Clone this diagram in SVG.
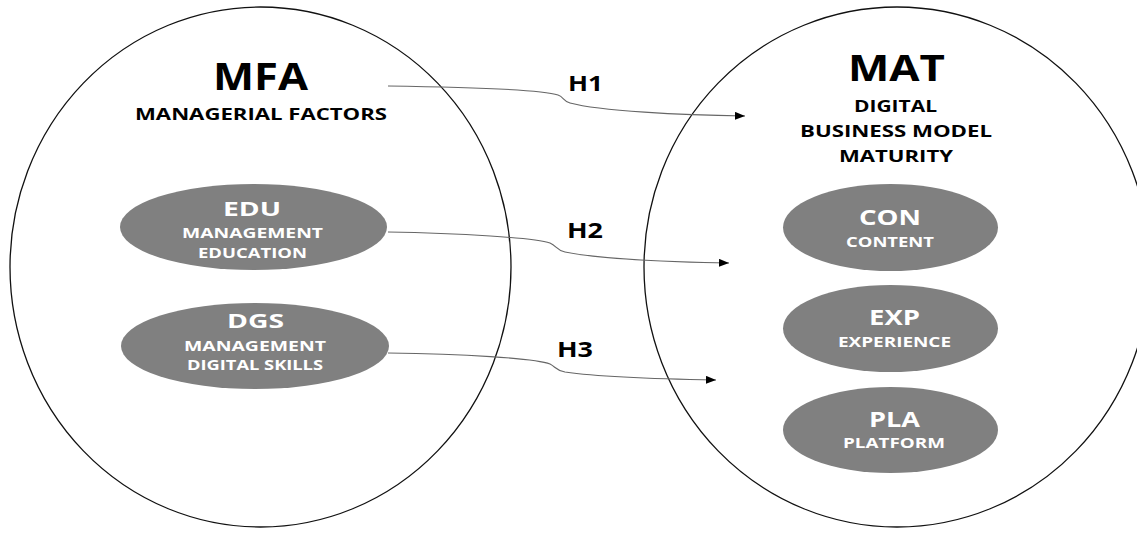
<svg xmlns="http://www.w3.org/2000/svg" width="1137" height="533" viewBox="0 0 1137 533">
<defs>
<style>
.big{fill:none;stroke:#111;stroke-width:1.3}
.sub{fill:#808080;stroke:none}
.t{font-family:"Open Sans","Liberation Sans",sans-serif;font-weight:bold;text-anchor:middle}
.dk{fill:#000}
.wt{fill:#fff}
.con{fill:none;stroke:#666;stroke-width:1.1}
</style>
<marker id="ah" viewBox="0 0 10 8" refX="10" refY="4" markerWidth="10" markerHeight="8" markerUnits="userSpaceOnUse" orient="auto">
<path d="M0,0 L10,4 L0,8 z" fill="#000"/>
</marker>
</defs>
<rect width="1137" height="533" fill="#fff"/>
<g id="MFA">
<ellipse class="big" cx="260.5" cy="267" rx="250.5" ry="260"/>
<text class="t dk" x="260.5" y="90" font-size="37" textLength="95" lengthAdjust="spacingAndGlyphs">MFA</text>
<text class="t dk" x="261" y="120" font-size="16" textLength="252" lengthAdjust="spacingAndGlyphs">MANAGERIAL FACTORS</text>
</g>
<g id="EDU">
<ellipse class="sub" cx="253.5" cy="227" rx="133.5" ry="43"/>
<text class="t wt" x="252" y="216" font-size="20" textLength="58" lengthAdjust="spacingAndGlyphs">EDU</text>
<text class="t wt" x="252.5" y="238" font-size="15" textLength="141" lengthAdjust="spacingAndGlyphs">MANAGEMENT</text>
<text class="t wt" x="252.5" y="258" font-size="15" textLength="109" lengthAdjust="spacingAndGlyphs">EDUCATION</text>
</g>
<g id="DGS">
<ellipse class="sub" cx="255" cy="346" rx="134" ry="43"/>
<text class="t wt" x="255.5" y="328" font-size="20" textLength="57" lengthAdjust="spacingAndGlyphs">DGS</text>
<text class="t wt" x="255" y="351" font-size="15" textLength="142" lengthAdjust="spacingAndGlyphs">MANAGEMENT</text>
<text class="t wt" x="255" y="370" font-size="15" textLength="136" lengthAdjust="spacingAndGlyphs">DIGITAL SKILLS</text>
</g>
<g id="MAT">
<ellipse class="big" cx="897" cy="267" rx="253" ry="260"/>
<text class="t dk" x="896.5" y="81" font-size="36" textLength="97" lengthAdjust="spacingAndGlyphs">MAT</text>
<text class="t dk" x="895.5" y="112" font-size="16" textLength="83" lengthAdjust="spacingAndGlyphs">DIGITAL</text>
<text class="t dk" x="896" y="137" font-size="16" textLength="192" lengthAdjust="spacingAndGlyphs">BUSINESS MODEL</text>
<text class="t dk" x="896" y="162" font-size="16" textLength="114" lengthAdjust="spacingAndGlyphs">MATURITY</text>
</g>
<g id="CON">
<ellipse class="sub" cx="890.5" cy="227.5" rx="107.5" ry="43.5"/>
<text class="t wt" x="890" y="225" font-size="21" textLength="62" lengthAdjust="spacingAndGlyphs">CON</text>
<text class="t wt" x="890" y="247" font-size="14" textLength="88" lengthAdjust="spacingAndGlyphs">CONTENT</text>
</g>
<g id="EXP">
<ellipse class="sub" cx="890.5" cy="328.5" rx="107.5" ry="43.5"/>
<text class="t wt" x="894.5" y="325" font-size="21" textLength="51" lengthAdjust="spacingAndGlyphs">EXP</text>
<text class="t wt" x="894.5" y="347" font-size="14" textLength="113" lengthAdjust="spacingAndGlyphs">EXPERIENCE</text>
</g>
<g id="PLA">
<ellipse class="sub" cx="890.5" cy="430" rx="107.5" ry="43"/>
<text class="t wt" x="894.5" y="427" font-size="21" textLength="51" lengthAdjust="spacingAndGlyphs">PLA</text>
<text class="t wt" x="894" y="448" font-size="14" textLength="102" lengthAdjust="spacingAndGlyphs">PLATFORM</text>
</g>
<g id="connectors">
<path class="con" marker-end="url(#ah)" d="M388,86 C460,87 540,89 558,95 C564,97 563,101 570,103 C600,111 680,115 745,116"/>
<path class="con" marker-end="url(#ah)" d="M388,232 C460,233 535,238 550,243 C557,246 556,250 565,252 C600,259 670,262 729,263"/>
<path class="con" marker-end="url(#ah)" d="M388,353 C460,354 535,358 550,364 C556,367 555,370 565,372 C600,377 660,379 716,380"/>
<text class="t dk" x="585.5" y="91" font-size="22" textLength="35" lengthAdjust="spacingAndGlyphs">H1</text>
<text class="t dk" x="585" y="238" font-size="22" textLength="36" lengthAdjust="spacingAndGlyphs">H2</text>
<text class="t dk" x="575" y="357" font-size="22" textLength="36" lengthAdjust="spacingAndGlyphs">H3</text>
</g>
</svg>
